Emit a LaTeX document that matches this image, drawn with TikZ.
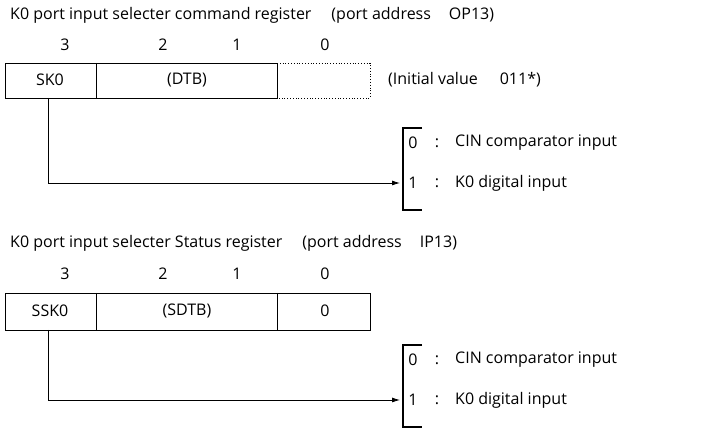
\documentclass[tikz,border=0pt]{standalone}
\usepackage{fontspec}
\setmainfont{Open Sans}
\usetikzlibrary{arrows.meta}
\begin{document}
\begin{tikzpicture}[x=1pt,y=-1pt,
  txt/.style={inner sep=0pt,anchor=west,font=\fontsize{16}{19}\selectfont},
  ctr/.style={inner sep=0pt,font=\fontsize{16}{19}\selectfont},
  reg/.style={draw,line width=0.8pt},
  conn/.style={line width=0.8pt,-{Latex[length=8pt,width=5pt]}},
  brk/.style={line width=1.2pt}]
\useasboundingbox (0,0) rectangle (705,443);
% ---------- Section 1 ----------
\node[txt] (t1) at (10,15) {K0 port input selecter command register\hspace{20pt}(port address\hspace{18pt}OP13)};
\node[ctr] (b13) at (65,45) {3};
\node[ctr] (b12) at (163,45) {2};
\node[ctr] (b11) at (237,45) {1};
\node[ctr] (b10) at (325,45) {0};
\draw[reg] (5,63) rectangle (277,98);
\draw[reg] (96,63) -- (96,98);
\draw[line width=0.8pt,dotted] (277,63) -- (370,63) -- (370,98) -- (277,98);
\node[ctr] (sk0) at (50,80) {SK0};
\node[ctr] (dtb) at (187,80) {(DTB)};
\node[txt] (iv) at (388,80) {(Initial value\hspace{22pt}011*)};
\coordinate (s1) at (48,98);
\coordinate (a1) at (400,183);
\draw[conn] (s1) |- (a1);
\draw[brk] (422,128) -- (403,128) -- (403,210) -- (422,210);
\node[ctr] (r10) at (413,143) {0};
\node[ctr] (c10) at (437,143) {:};
\node[txt] (l10) at (455,143) {CIN comparator input};
\node[ctr] (r11) at (413,183) {1};
\node[ctr] (c11) at (437,183) {:};
\node[txt] (l11) at (455,183) {K0 digital input};
% ---------- Section 2 ----------
\node[txt] (t2) at (10,243) {K0 port input selecter Status register\hspace{20pt}(port address\hspace{18pt}IP13)};
\node[ctr] (b23) at (65,274) {3};
\node[ctr] (b22) at (163,274) {2};
\node[ctr] (b21) at (237,274) {1};
\node[ctr] (b20) at (325,274) {0};
\draw[reg] (5,293) rectangle (370,330);
\draw[reg] (96,293) -- (96,330);
\draw[reg] (277,293) -- (277,330);
\node[ctr] (ssk0) at (50,311) {SSK0};
\node[ctr] (sdtb) at (187,311) {(SDTB)};
\node[ctr] (z0) at (325,311) {0};
\coordinate (s2) at (48,330);
\coordinate (a2) at (400,400);
\draw[conn] (s2) |- (a2);
\draw[brk] (422,345) -- (403,345) -- (403,427) -- (422,427);
\node[ctr] (r20) at (413,360) {0};
\node[ctr] (c20) at (437,360) {:};
\node[txt] (l20) at (455,360) {CIN comparator input};
\node[ctr] (r21) at (413,400) {1};
\node[ctr] (c21) at (437,400) {:};
\node[txt] (l21) at (455,400) {K0 digital input};
\end{tikzpicture}
\end{document}
